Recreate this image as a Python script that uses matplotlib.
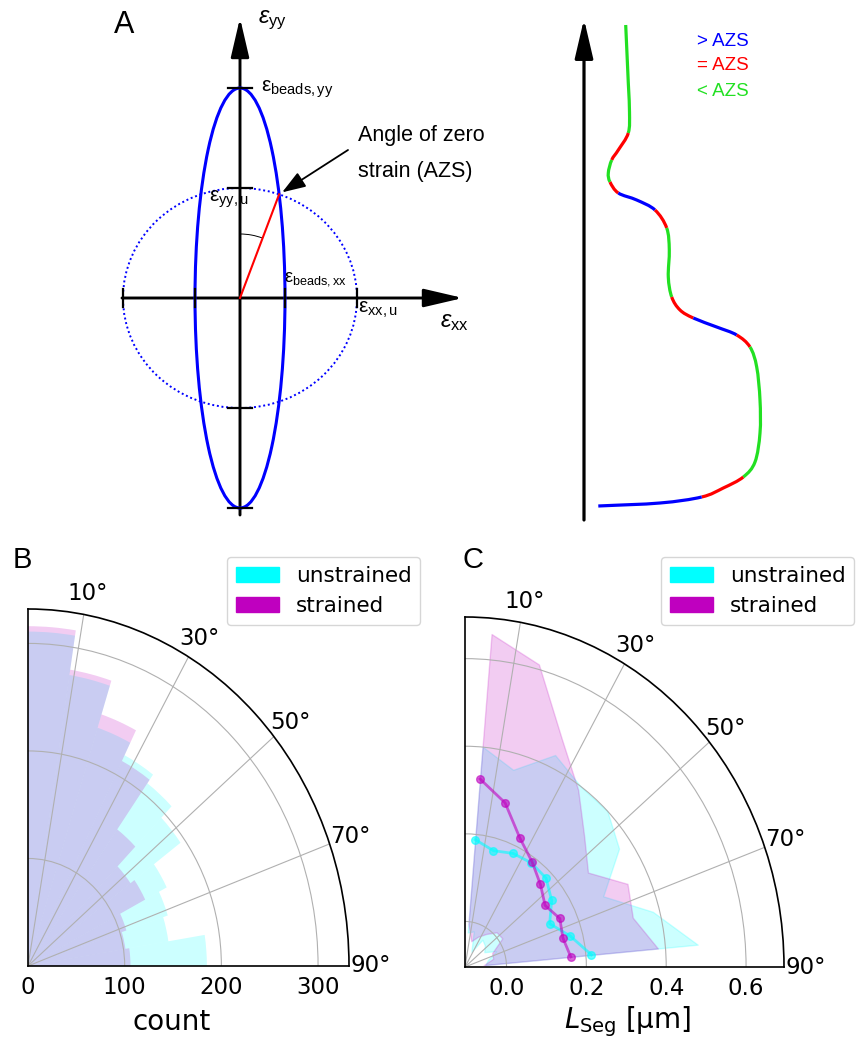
import numpy as np
import matplotlib
matplotlib.use("Agg")
import matplotlib.pyplot as plt
from matplotlib.patches import Ellipse, Arc, PathPatch, Patch, FancyArrowPatch, ArrowStyle
from matplotlib.path import Path

# ---------------- data ----------------
# Panel B: histogram of segment angles, 9-degree bins
bin_left_deg = [0, 9, 18, 27, 36, 45, 54, 63, 72, 81]
bin_width_deg = 9
count_unstrained = [311, 274, 233, 220, 210, 195, 161, 152, 147, 185]
count_strained = [316, 279, 246, 214, 157, 131, 136, 107, 102, 106]

# Panel C: segment length vs. angle (mean and standard deviation)
seg_angle_deg = [5, 15, 25, 35, 45, 55, 65, 75, 85]
lseg_unstrained_mean = [0.188, 0.171, 0.182, 0.186, 0.183, 0.161, 0.130, 0.169, 0.214]
lseg_unstrained_std = [0.213, 0.191, 0.248, 0.214, 0.217, 0.206, 0.148, 0.214, 0.267]
lseg_strained_mean = [0.327, 0.284, 0.221, 0.189, 0.163, 0.141, 0.158, 0.150, 0.162]
lseg_strained_std = [0.332, 0.327, 0.249, 0.201, 0.155, 0.131, 0.187, 0.181, 0.219]

r_ticks_B = [0, 100, 200, 300]
r_ticks_C = [0.0, 0.2, 0.4, 0.6]
theta_ticks = [10, 30, 50, 70, 90]
series_labels = ["unstrained", "strained"]
series_colors = ["cyan", "m"]

# ---------------- figure ----------------
W, H = 858, 1041
fig = plt.figure(figsize=(W / 100, H / 100), dpi=100)

plt.rcParams["mathtext.fontset"] = "dejavusans"
plt.rcParams["mathtext.rm"] = "Liberation Sans"
plt.rcParams["mathtext.it"] = "Liberation Sans:italic"

SANS = "Liberation Sans"

# Canvas axes in pixel units for the schematic in panel A
ax = fig.add_axes([0, 0, 1, 1])
ax.set_xlim(0, W)
ax.set_ylim(H, 0)
ax.axis("off")

# ---- panel A, left: strain ellipse ----
ox, oy = 240.0, 298.0                 # origin of strain axes
ell_a, ell_b = 45.0, 210.0            # bead strain ellipse semi-axes
circ_a, circ_b = 117.0, 110.0         # unstrained reference (dotted)
y_axis_end, y_axis_tip = 515.0, 18.0
x_axis_end, x_axis_tip = 122.0, 463.0

axis_arrow = ArrowStyle("-|>", head_length=1.2, head_width=0.28)
ax.add_patch(FancyArrowPatch((ox, y_axis_end), (ox, y_axis_tip), arrowstyle=axis_arrow,
                             mutation_scale=20, lw=2.1, color="k", shrinkA=0, shrinkB=0))
ax.add_patch(FancyArrowPatch((x_axis_end, oy), (x_axis_tip, oy), arrowstyle=axis_arrow,
                             mutation_scale=20, lw=2.1, color="k", shrinkA=0, shrinkB=0))

ax.add_patch(Ellipse((ox, oy), 2 * circ_a, 2 * circ_b, fill=False, ec="#0000ff",
                     lw=1.4, ls=(0, (1, 1.4))))
ax.add_patch(Ellipse((ox, oy), 2 * ell_a, 2 * ell_b, fill=False, ec="#0000ff", lw=2.2))

tick_half = 12
for yy in (oy - ell_b, oy - circ_b, oy + circ_b, oy + ell_b):
    ax.plot([ox - tick_half, ox + tick_half], [yy, yy], color="k", lw=1.6)
for xx in (ox - circ_a, ox - ell_a, ox + ell_a, ox + circ_a):
    ax.plot([xx, xx], [oy - 9, oy + 9], color="k", lw=1.6)

# intersection of ellipse and reference ellipse -> angle of zero strain
M = np.array([[1 / ell_a ** 2, 1 / ell_b ** 2], [1 / circ_a ** 2, 1 / circ_b ** 2]])
u, v = np.linalg.solve(M, [1.0, 1.0])
ix, iy = ox + np.sqrt(u), oy - np.sqrt(v)
ax.plot([ox, ix], [oy, iy], color="#ff0000", lw=1.5)
azs_deg = np.degrees(np.arctan2(iy - oy, ix - ox))
ax.add_patch(Arc((ox, oy), 128, 128, theta1=-90, theta2=azs_deg, color="k", lw=0.7))

ax.add_patch(FancyArrowPatch((348, 150), (ix + 3, iy - 2),
                             arrowstyle=ArrowStyle("-|>", head_length=1.2, head_width=0.42),
                             mutation_scale=12, lw=1.3, color="k", shrinkA=0, shrinkB=0))
ax.text(358, 135, "Angle of zero", fontsize=15.5, family=SANS, ha="left", va="center")
ax.text(358, 171, "strain (AZS)", fontsize=15.5, family=SANS, ha="left", va="center")

def eps_label(x, y, sub, size, italic=False):
    e = r"\mathit{ε}" if italic else r"\mathrm{ε}"
    ax.text(x, y, r"$%s_{\mathrm{%s}}$" % (e, sub), fontsize=size, ha="left",
            va="center", family=SANS, math_fontfamily="custom")

eps_label(258, 20, "yy", 17, italic=True)
eps_label(440, 322, "xx", 17, italic=True)
eps_label(261, 89, "beads,yy", 15)
eps_label(209, 199, "yy,u", 15)
eps_label(284, 279, "beads,xx", 13)
eps_label(358, 310, "xx,u", 15)

# ---- panel A, right: filament coloured by angle relative to AZS ----
ax.add_patch(FancyArrowPatch((584, 520), (584, 19), arrowstyle=axis_arrow,
                             mutation_scale=20, lw=2.3, color="k", shrinkA=0, shrinkB=0))

col_gt, col_eq, col_lt = "#0000ff", "#ff0000", "#22e022"
path_pts = [(625.7, 25), (628.3, 83), (629.5, 112), (628.3, 133), (618.3, 150),
            (611.7, 160), (608.3, 173), (610, 182), (618.3, 193), (636.7, 200),
            (655, 210), (666.7, 228), (669.3, 250), (668.3, 277), (671.7, 297),
            (680, 310), (693.3, 318), (716.7, 327), (736.7, 335), (750, 347),
            (756.7, 367), (760, 400), (760, 433), (755, 462), (743.3, 477),
            (723.3, 488), (701.7, 497), (660, 503), (598.3, 506)]
path_cls = ["<", "<", "<", "=", "=", "<", "<", "=", ">", ">", "=", "<", "<", "<",
            "=", "=", ">", ">", "=", "<", "<", "<", "<", "<", "=", "=", ">", ">"]
cls_color = {">": col_gt, "=": col_eq, "<": col_lt}

P = np.asarray(path_pts, float)
E = np.vstack([2 * P[0] - P[1], P, 2 * P[-1] - P[-2]])
beziers = []
for i in range(len(P) - 1):
    p0, p1, p2, p3 = E[i], E[i + 1], E[i + 2], E[i + 3]
    beziers.append((p1, p1 + (p2 - p0) / 6, p2 - (p3 - p1) / 6, p2))

i = 0
while i < len(beziers):
    j = i
    while j + 1 < len(beziers) and path_cls[j + 1] == path_cls[i]:
        j += 1
    verts = [beziers[i][0]]
    codes = [Path.MOVETO]
    for k in range(i, j + 1):
        verts += [beziers[k][1], beziers[k][2], beziers[k][3]]
        codes += [Path.CURVE4] * 3
    ax.add_patch(PathPatch(Path(verts, codes), fill=False, ec=cls_color[path_cls[i]],
                           lw=2.3, capstyle="butt"))
    i = j + 1

for yy, sym in zip((41, 66, 92), (">", "=", "<")):
    ax.text(697, yy, f"{sym} AZS", color=cls_color[sym], fontsize=13.5, family=SANS,
            ha="left", va="center")

# panel letters
ax.text(124, 25, "A", fontsize=22, family=SANS, ha="center", va="center")
ax.text(22, 560, "B", fontsize=21, family=SANS, ha="center", va="center")
ax.text(473, 560, "C", fontsize=21, family=SANS, ha="center", va="center")


def quarter_polar(rect):
    pax = fig.add_axes(rect, projection="polar")
    pax.set_theta_zero_location("N")
    pax.set_theta_direction(-1)
    pax.set_thetamin(0)
    pax.set_thetamax(90)
    pax.set_aspect("auto")
    pax.set_thetagrids(theta_ticks)
    pax.tick_params(labelsize=16.5)
    pax.xaxis.set_tick_params(pad=5)
    pax.yaxis.set_tick_params(label1On=False, label2On=True)
    for s in pax.spines.values():
        s.set_linewidth(1.2)
    return pax


def fig_rect(left, top, right, bottom):
    return [left / W, (H - bottom) / H, (right - left) / W, (bottom - top) / H]


legend_handles = [Patch(facecolor=c, edgecolor=c) for c in series_colors]

# ---- panel B ----
axB = quarter_polar(fig_rect(28, 609, 349, 966))
th_left = np.deg2rad(bin_left_deg)
for counts, c in zip((count_unstrained, count_strained), series_colors):
    axB.bar(th_left, counts, width=np.deg2rad(bin_width_deg), align="edge",
            color=c, alpha=0.2, lw=0)
axB.set_rlim(0, 332)
axB.set_rticks(r_ticks_B)
ax.text(172, 1022, "count", fontsize=20, ha="center", va="center")
fig.legend(legend_handles, series_labels, loc="upper left",
           bbox_to_anchor=(227 / W, 1 - 557 / H), borderaxespad=0, fontsize=15.5)

# ---- panel C ----
axC = quarter_polar(fig_rect(465, 617, 784, 967))
th = np.deg2rad(seg_angle_deg)
series_C = [(lseg_unstrained_mean, lseg_unstrained_std), (lseg_strained_mean, lseg_strained_std)]
for (mean, std), c in zip(series_C, series_colors):
    mean = np.asarray(mean)
    std = np.asarray(std)
    axC.fill_between(th, mean - std, mean + std, color=c, alpha=0.2)
for (mean, std), c in zip(series_C, series_colors):
    axC.plot(th, mean, "o-", color=c, alpha=0.6, lw=2, ms=5.5)
axC.set_rlim(-0.104, 0.695)
axC.set_rticks(r_ticks_C)
axC.yaxis.get_major_ticks()[0].gridline.set_visible(False)
ax.text(627, 1022, r"$L_{\rm Seg}$ [µm]", fontsize=20, ha="center", va="center")
fig.legend(legend_handles, series_labels, loc="upper left",
           bbox_to_anchor=(661 / W, 1 - 557 / H), borderaxespad=0, fontsize=15.5)

fig.savefig("out.png", dpi=100)
